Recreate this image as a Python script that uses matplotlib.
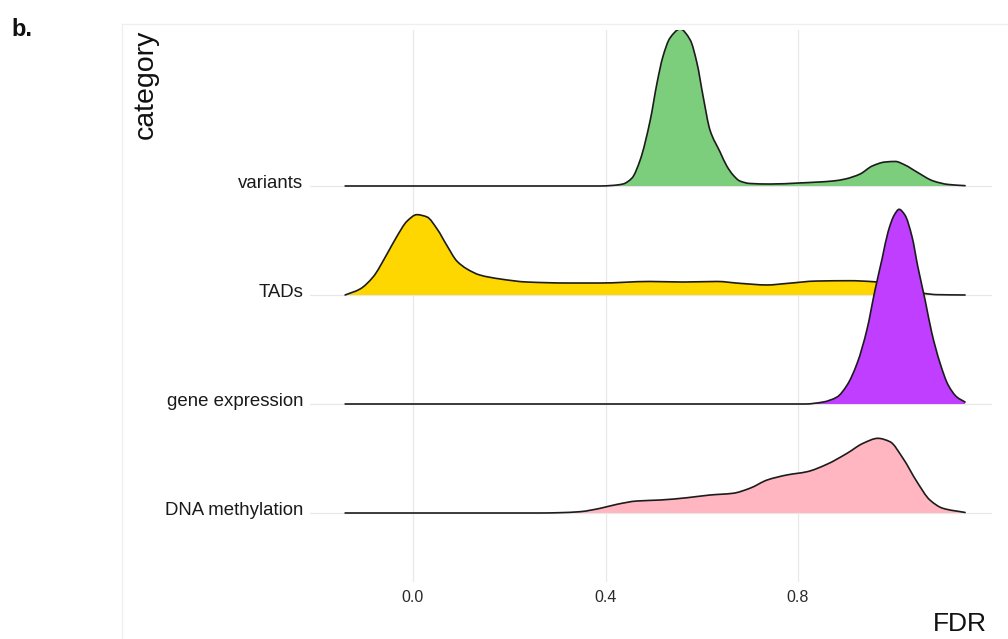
import matplotlib
matplotlib.use("Agg")
import matplotlib.pyplot as plt
from matplotlib.lines import Line2D
from matplotlib.path import Path
from matplotlib.patches import PathPatch
from matplotlib.transforms import ScaledTranslation

plt.rcParams["font.family"] = ["Liberation Sans", "DejaVu Sans"]

# Ridge rows, bottom to top
categories = ["DNA methylation", "gene expression", "TADs", "variants"]
fill_colors = ["#FFB6C1", "#BF3EFF", "#FFD700", "#7CCD7C"]

# Scaled density of FDR per category (height in row units)
variants_fdr = [-0.141, 0.389, 0.414, 0.436, 0.455, 0.472, 0.493, 0.507, 0.519, 0.534,
                0.555, 0.576, 0.590, 0.603, 0.617, 0.638, 0.652, 0.665, 0.679, 0.700,
                0.742, 0.804, 0.873, 0.898, 0.929, 0.954, 0.981, 1.002, 1.022, 1.047,
                1.081, 1.112, 1.147]
variants_density = [0.0, 0.0, 0.005, 0.018, 0.073, 0.239, 0.606, 0.945, 1.183, 1.358,
                    1.440, 1.339, 1.128, 0.817, 0.514, 0.312, 0.183, 0.101, 0.046, 0.023,
                    0.018, 0.028, 0.046, 0.064, 0.110, 0.183, 0.220, 0.225, 0.193, 0.128,
                    0.046, 0.014, 0.003]

tads_fdr = [-0.141, -0.110, -0.083, -0.054, -0.033, -0.012, 0.008, 0.029, 0.050, 0.071,
            0.091, 0.112, 0.139, 0.181, 0.237, 0.320, 0.389, 0.492, 0.561, 0.632,
            0.679, 0.736, 0.777, 0.839, 0.908, 0.956, 0.991, 1.022, 1.060, 1.089, 1.147]
tads_density = [0.0, 0.055, 0.165, 0.376, 0.541, 0.679, 0.737, 0.716, 0.606, 0.450,
                0.312, 0.239, 0.183, 0.147, 0.119, 0.110, 0.110, 0.124, 0.119, 0.124,
                0.107, 0.092, 0.106, 0.128, 0.131, 0.122, 0.101, 0.055, 0.016, 0.003, 0.0]

gene_fdr = [-0.141, 0.815, 0.852, 0.881, 0.902, 0.923, 0.943, 0.960, 0.975, 0.987,
            1.000, 1.010, 1.022, 1.037, 1.049, 1.064, 1.078, 1.095, 1.112, 1.130, 1.147]
gene_density = [0.0, 0.0, 0.018, 0.064, 0.174, 0.376, 0.679, 1.046, 1.339, 1.578,
                1.734, 1.786, 1.734, 1.532, 1.257, 0.954, 0.651, 0.376, 0.174, 0.064, 0.018]

methyl_fdr = [-0.141, 0.264, 0.305, 0.347, 0.389, 0.424, 0.465, 0.513, 0.569, 0.617,
              0.665, 0.700, 0.736, 0.777, 0.819, 0.860, 0.902, 0.935, 0.966, 0.991,
              1.018, 1.047, 1.074, 1.101, 1.147]
methyl_density = [0.0, 0.0, 0.003, 0.012, 0.043, 0.080, 0.110, 0.119, 0.140, 0.165,
                  0.181, 0.227, 0.303, 0.349, 0.379, 0.447, 0.548, 0.639, 0.685, 0.654,
                  0.502, 0.287, 0.119, 0.043, 0.005]

x_ticks = [0.0, 0.4, 0.8]
x_tick_labels = ["0.0", "0.4", "0.8"]

series = [
    (methyl_fdr, methyl_density),
    (gene_fdr, gene_density),
    (tads_fdr, tads_density),
    (variants_fdr, variants_density),
]


def smooth_ridge(xs, ys):
    """Bezier path through the points using monotone (Fritsch-Carlson) tangents."""
    n = len(xs)
    h = [xs[i + 1] - xs[i] for i in range(n - 1)]
    d = [(ys[i + 1] - ys[i]) / h[i] for i in range(n - 1)]
    m = [0.0] * n
    m[0], m[-1] = d[0], d[-1]
    for i in range(1, n - 1):
        if d[i - 1] * d[i] <= 0:
            m[i] = 0.0
        else:
            w1 = 2 * h[i] + h[i - 1]
            w2 = h[i] + 2 * h[i - 1]
            m[i] = (w1 + w2) / (w1 / d[i - 1] + w2 / d[i])
    verts = [(xs[0], ys[0])]
    codes = [Path.MOVETO]
    for i in range(n - 1):
        verts += [(xs[i] + h[i] / 3, ys[i] + m[i] * h[i] / 3),
                  (xs[i + 1] - h[i] / 3, ys[i + 1] - m[i + 1] * h[i] / 3),
                  (xs[i + 1], ys[i + 1])]
        codes += [Path.CURVE4] * 3
    return verts, codes


W, H = 1008, 639
fig = plt.figure(figsize=(W / 100, H / 100), dpi=100)
fig.patch.set_facecolor("white")

ax = fig.add_axes([310 / W, 1 - 582 / H, (992 - 310) / W, (582 - 30) / H])
ax.set_xlim(-0.214, 1.203)
ax.set_ylim(0.367, 5.431)

grid_color = "#e8e8e8"
for xv in x_ticks:
    ax.axvline(xv, color=grid_color, lw=0.9, zorder=0)
for row in range(1, len(categories) + 1):
    ax.axhline(row, color=grid_color, lw=0.9, zorder=0)

# Top row first so lower ridges overlap the ones above them
for k in reversed(range(len(categories))):
    xs, dens = series[k]
    base = k + 1
    tops = [base + v for v in dens]
    z = 10 + (len(categories) - k) * 2
    verts, codes = smooth_ridge(xs, tops)
    fill_verts = verts + [(xs[-1], base), (xs[0], base), (xs[0], tops[0])]
    fill_codes = codes + [Path.LINETO, Path.LINETO, Path.CLOSEPOLY]
    ax.add_patch(PathPatch(Path(fill_verts, fill_codes), facecolor=fill_colors[k],
                           edgecolor="none", lw=0, zorder=z))
    ax.add_patch(PathPatch(Path(verts, codes), fill=False, edgecolor="#1c1c1c",
                           lw=1.2, zorder=z + 1, capstyle="round", joinstyle="round"))

ax.set_xticks(x_ticks)
ax.set_xticklabels(x_tick_labels, fontsize=11.5, color="#2a2a2a")
ax.set_yticks(range(1, len(categories) + 1))
ax.set_yticklabels(categories, fontsize=13.4, color="#1a1a1a", va="baseline")
ax.tick_params(axis="both", length=0)
ax.tick_params(axis="x", pad=6)
ax.tick_params(axis="y", pad=5)
label_shift = ScaledTranslation(0, -2 / 100, fig.dpi_scale_trans)
for lbl in ax.get_yticklabels():
    lbl.set_transform(lbl.get_transform() + label_shift)
for s in ax.spines.values():
    s.set_visible(False)

fig.text(987 / W, 1 - 624 / H, "FDR", ha="right", va="center", fontsize=19, color="#111111")
fig.text(146 / W, 1 - 30 / H, "category", ha="center", va="top", rotation=90,
         fontsize=20.5, color="#111111")
fig.text(11 / W, 1 - 29 / H, "b.", ha="left", va="center", fontsize=17,
         fontweight="bold", color="#111111")

# faint outer panel frame
frame_color = "#efefef"
fig.add_artist(Line2D([122 / W, 122 / W], [0, 1 - 24 / H], transform=fig.transFigure,
                      color=frame_color, lw=0.9))
fig.add_artist(Line2D([122 / W, 1.0], [1 - 24 / H, 1 - 24 / H], transform=fig.transFigure,
                      color=frame_color, lw=0.9))

fig.savefig("out.png", dpi=100)
